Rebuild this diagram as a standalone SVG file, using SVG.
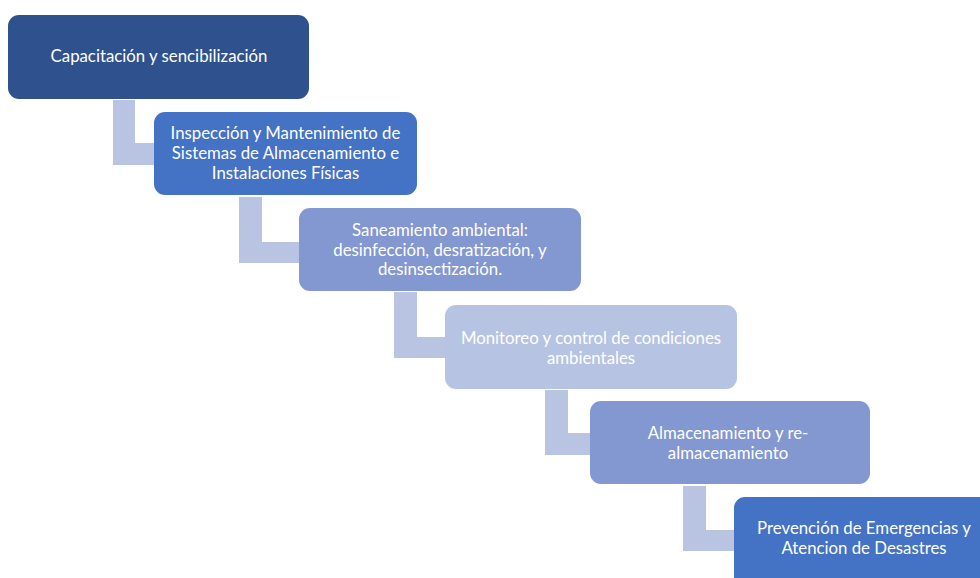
<svg xmlns="http://www.w3.org/2000/svg" width="980" height="578" viewBox="0 0 980 578">
<style>
.t{font-family:Lato,"Open Sans","Liberation Sans",sans-serif;font-size:16.8px;fill:#FFFFFF;text-anchor:middle}
.c{fill:#B9C4E2}
</style>
<rect width="980" height="578" fill="#FFFFFF"/>
<g id="connectors">
<path class="c" d="M113 100H135V143H155V165H113Z"/>
<path class="c" d="M239 197H262V242H300V263H239Z"/>
<path class="c" d="M394 292H417V337H445V358H394Z"/>
<path class="c" d="M545 390H568V433H590V455H545Z"/>
<path class="c" d="M683 486H706V530H735V551H683Z"/>
</g>
<g id="n1">
<rect x="8" y="15" width="301" height="84" rx="11" fill="#2F528F"/>
<text class="t" x="159" y="62">Capacitación y sencibilización</text>
</g>
<g id="n2">
<rect x="154" y="112" width="263" height="83" rx="11" fill="#4472C4"/>
<text class="t" x="285.5" y="139">Inspección y Mantenimiento de</text>
<text class="t" x="285.5" y="159">Sistemas de Almacenamiento e</text>
<text class="t" x="285.5" y="179">Instalaciones Físicas</text>
</g>
<g id="n3">
<rect x="299" y="208" width="282" height="83" rx="11" fill="#8397D1"/>
<text class="t" x="440" y="236">Saneamiento ambiental:</text>
<text class="t" x="440" y="256">desinfección, desratización, y</text>
<text class="t" x="440" y="275">desinsectización.</text>
</g>
<g id="n4">
<rect x="445" y="305" width="292" height="84" rx="11" fill="#B7C3E2"/>
<text class="t" x="591" y="344">Monitoreo y control de condiciones</text>
<text class="t" x="591" y="364">ambientales</text>
</g>
<g id="n5">
<rect x="590" y="401" width="280" height="83" rx="11" fill="#8397D1"/>
<text class="t" x="728" y="439">Almacenamiento y re-</text>
<text class="t" x="728" y="459">almacenamiento</text>
</g>
<g id="n6">
<rect x="734" y="497" width="262" height="95" rx="11" fill="#4472C4"/>
<text class="t" x="864" y="534">Prevención de Emergencias y</text>
<text class="t" x="864" y="554">Atencion de Desastres</text>
</g>
</svg>
